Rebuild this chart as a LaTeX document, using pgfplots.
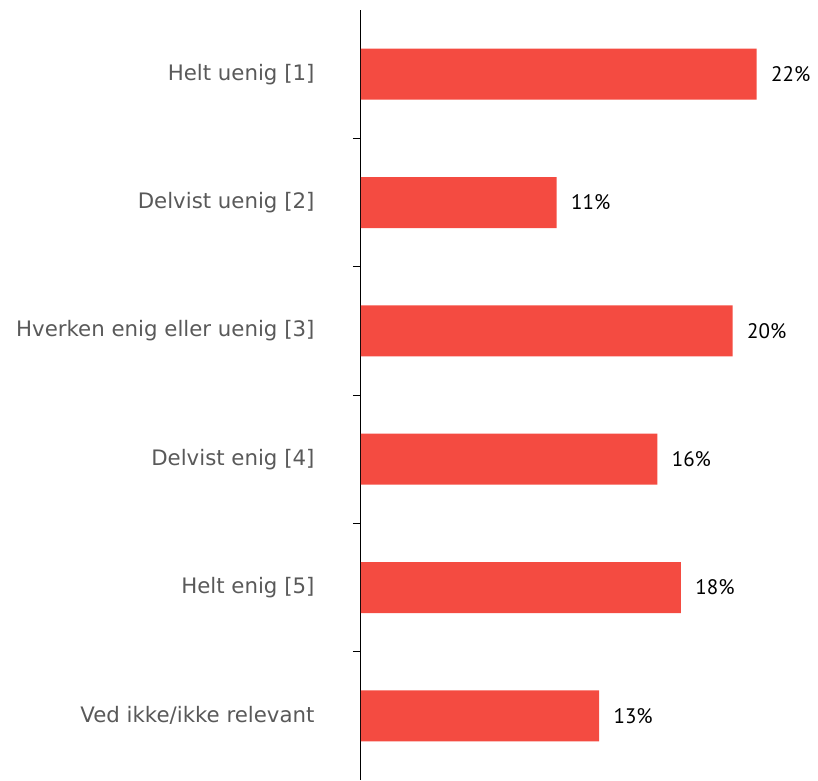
\documentclass[border=0pt]{standalone}
\usepackage{fontspec}
\setmainfont{DejaVu Sans}
\newfontfamily\valfont{PT Sans}
\usepackage{pgfplots}
\pgfplotsset{compat=1.18}
\definecolor{barred}{HTML}{F44B41}
\definecolor{labgray}{HTML}{595959}
\begin{document}
\begin{tikzpicture}
\useasboundingbox (-361pt,0pt) rectangle (457pt,780pt);
\begin{axis}[
  at={(0pt,0pt)}, anchor=south west,
  scale only axis, width=455pt, height=770pt,
  xbar, bar width=51pt,
  xmin=0, xmax=25,
  ymin=-0.5, ymax=5.5, y dir=reverse,
  axis x line=none,
  axis y line*=left,
  y axis line style={-, black, line width=1pt},
  ytick={0,1,2,3,4,5},
  yticklabels={Helt uenig [1],Delvist uenig [2],Hverken enig eller uenig [3],Delvist enig [4],Helt enig [5],Ved ikke/ikke relevant},
  y tick label style={font=\fontsize{21.3}{25}\selectfont, text=labgray, xshift=-43pt},
  major tick length=0pt,
  extra y ticks={0.5,1.5,2.5,3.5,4.5},
  extra y tick labels={},
  extra y tick style={tick style={black, line width=1pt}, major tick length=8pt, tick align=outside},
  /pgf/number format/assume math mode=true,
  nodes near coords={\pgfmathprintnumber[fixed,precision=0,assume math mode=true]{\pgfplotspointmeta}\%},
  nodes near coords style={font=\valfont\fontsize{21}{25}\selectfont, text=black, anchor=west, xshift=11pt},
  clip=false,
]
\addplot[fill=barred, draw=none] coordinates {
  (21.74,0) (10.75,1) (20.42,2) (16.28,3) (17.58,4) (13.08,5)
};
\end{axis}
\end{tikzpicture}
\end{document}
